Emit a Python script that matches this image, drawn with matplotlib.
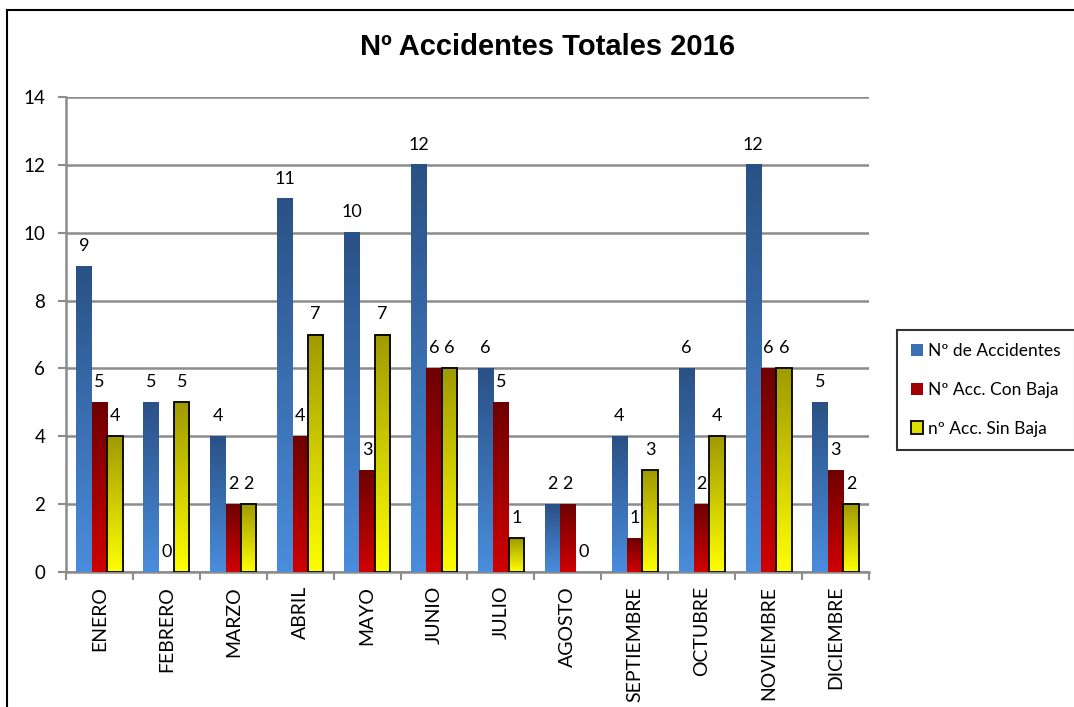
import numpy as np
import matplotlib.pyplot as plt
from matplotlib.colors import LinearSegmentedColormap
from matplotlib.patches import Patch
from matplotlib.lines import Line2D

meses = ['ENERO', 'FEBRERO', 'MARZO', 'ABRIL', 'MAYO', 'JUNIO', 'JULIO',
         'AGOSTO', 'SEPTIEMBRE', 'OCTUBRE', 'NOVIEMBRE', 'DICIEMBRE']
total = [9, 5, 4, 11, 10, 12, 6, 2, 4, 6, 12, 5]
conBaja = [5, 0, 2, 4, 3, 6, 5, 2, 1, 2, 6, 3]
sinBaja = [4, 5, 2, 7, 7, 6, 1, 0, 3, 4, 6, 2]
etiquetas = ['Nº de Accidentes', 'Nº Acc. Con Baja', 'nº Acc. Sin Baja']

plt.rcParams['font.family'] = ['Lato', 'DejaVu Sans']


def gradientBars(ax, bars, top, bottom):
    """Fills each bar with a vertical gradient (dark top, light bottom)"""

    cmap = LinearSegmentedColormap.from_list('g', [bottom, top])
    grad = np.linspace(0, 1, 256).reshape(-1, 1)
    for bar in bars:
        x, y = bar.get_x(), bar.get_y()
        w, h = bar.get_width(), bar.get_height()
        if h <= 0:
            bar.set_visible(False)
            continue
        ax.imshow(grad, extent=[x, x + w, y, y + h], origin='lower', cmap=cmap,
                  aspect='auto', zorder=2.9, interpolation='bilinear')
        bar.set_facecolor('none')


def labelBars(ax, xs, values):
    for x, v in zip(xs, values):
        ax.annotate(str(v), (x, v), xytext=(0, 11), textcoords='offset points',
                    ha='center', va='baseline', fontsize=13)


fig = plt.figure(figsize=(10.74, 7.07), dpi=100)
ax = fig.add_axes([66 / 1074, 1 - 572 / 707, (869 - 66) / 1074, (572 - 97) / 707])

x = np.arange(len(meses))
w = 0.23

b1 = ax.bar(x - w, total, w, zorder=3, linewidth=0)
b2 = ax.bar(x, conBaja, w, zorder=3, linewidth=0)
b3 = ax.bar(x + w, sinBaja, w, zorder=3, edgecolor='black', linewidth=1.3)

gradientBars(ax, b1, '#2a5185', '#4a8ddd')
gradientBars(ax, b2, '#6e0000', '#d00000')
gradientBars(ax, b3, '#a09a00', '#ffff00')

labelBars(ax, x - w, total)
labelBars(ax, x, conBaja)
labelBars(ax, x + w, sinBaja)

"""Axes, ticks and grid"""

ax.set_xlim(-0.5, 11.5)
ax.set_ylim(0, 14)
ax.set_yticks(range(0, 15, 2))
ax.set_xticks(np.arange(-0.5, 12, 1))
ax.set_xticklabels([])
ax.set_xticks(x, minor=True)
ax.set_xticklabels(meses, minor=True, rotation=90, fontsize=14)
ax.tick_params(axis='x', which='minor', length=0, pad=10)
ax.tick_params(axis='x', which='major', length=6, color='#8c8c8c', width=1.5)
ax.tick_params(axis='y', length=6, color='#8c8c8c', width=1.5, labelsize=13.5, pad=9)

ax.grid(axis='y', color='#8c8c8c', linewidth=1.8)
ax.set_axisbelow(True)
for s in ['top', 'right']:
    ax.spines[s].set_visible(False)
for s in ['left', 'bottom']:
    ax.spines[s].set_color('#8c8c8c')
    ax.spines[s].set_linewidth(1.8)

"""Legend"""

handles = [Patch(facecolor='#3c6fb0', edgecolor='none'),
           Patch(facecolor='#a00000', edgecolor='none'),
           Patch(facecolor='#dede00', edgecolor='black', linewidth=1.3)]
leg = fig.legend(handles, etiquetas, loc='center left', bbox_to_anchor=(897 / 1074, 1 - 390 / 707),
                 frameon=True, fancybox=False, edgecolor='black', fontsize=12.5,
                 handlelength=0.7, handleheight=0.7, handletextpad=0.3, labelspacing=1.3,
                 borderpad=0.8, borderaxespad=0)
leg.get_frame().set_linewidth(1.5)

"""Title and outer border (only top and left edges are inside the picture)"""

fig.text(548 / 1074, 1 - 47 / 707, 'Nº Accidentes Totales 2016', ha='center', va='center',
         fontsize=21, fontweight='bold', family='Liberation Sans')
top = 1 - 10 / 707
left = 7 / 1074
fig.add_artist(Line2D([left, 1.0], [top, top], transform=fig.transFigure, color='black', linewidth=1.5))
fig.add_artist(Line2D([left, left], [0.0, top], transform=fig.transFigure, color='black', linewidth=1.5))

plt.savefig('out.png')
plt.close()
